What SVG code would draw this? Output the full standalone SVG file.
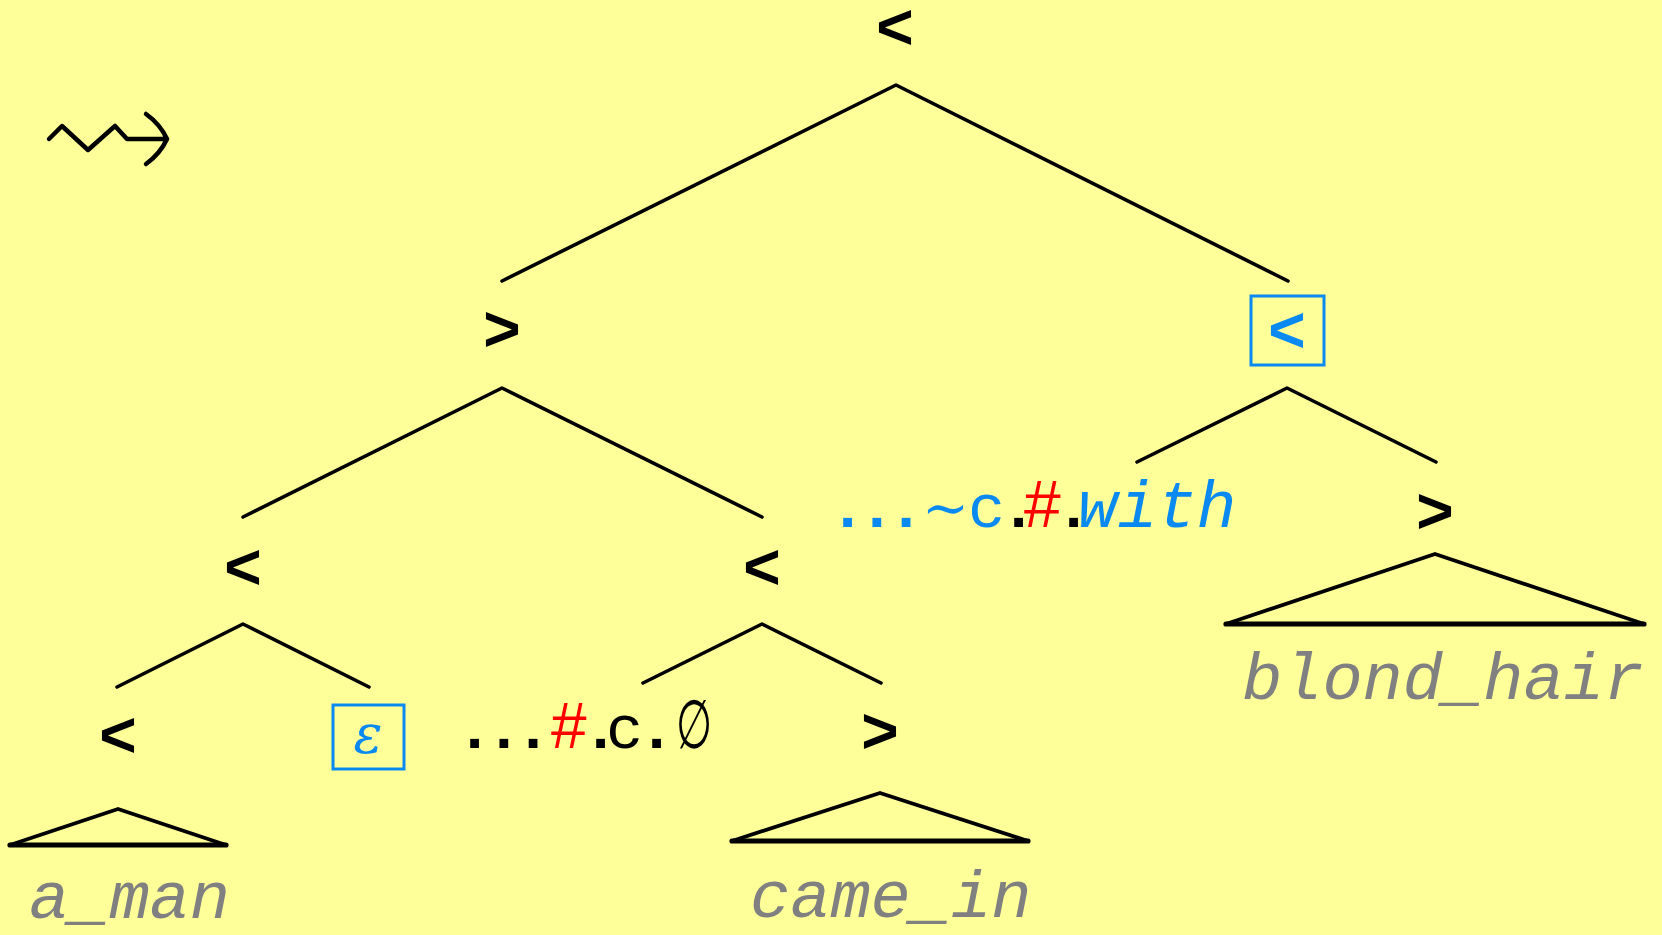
<svg xmlns="http://www.w3.org/2000/svg" width="1662" height="935" viewBox="0 0 1662 935">
<style>
.bg{fill:#ffff99}
.e{stroke:#000;stroke-width:3.6;fill:none;stroke-linecap:round;stroke-linejoin:round}
.tri{stroke:#000;stroke-width:3.8;fill:none;stroke-linecap:round;stroke-linejoin:round}
.base{stroke:#000;stroke-width:5.2;stroke-linecap:round}
.op{font-family:"Liberation Sans",Arial,sans-serif;font-weight:bold;font-size:64px;text-anchor:middle;fill:#000}
.blue{fill:#0a8af0}
.box{fill:none;stroke:#0a8af0;stroke-width:3}
.leaf{font-family:"Liberation Mono","Courier New",monospace;font-style:italic;font-size:67px;fill:#808080}
.t{font-family:"Liberation Sans",Arial,sans-serif;font-size:62px}
.mono{font-family:"Liberation Mono","Courier New",monospace;font-size:62px}
.serif{font-family:"DejaVu Serif","Liberation Serif",serif;font-size:58px}
</style>
<rect class="bg" x="0" y="0" width="1662" height="935"/>
<g id="symbol">
<path class="e" style="stroke-width:4.5" d="M49,139 L62,126 L88,150 L115,126 L127,139 L166,139 M146,114 Q160,124 167,139 Q160,154 146,164"/>
</g>
<g id="connectors">
<polyline class="e" points="502,281 896,85 1288,281"/>
<polyline class="e" points="243,517 502,388 762,517"/>
<polyline class="e" points="1137,462 1287,388 1436,462"/>
<polyline class="e" points="117,687 243,624 369,687"/>
<polyline class="e" points="643,683 762,624 881,683"/>
</g>
<g id="n-root"><text class="op" x="895" y="49">&lt;</text></g>
<g id="n-gt1"><text class="op" x="502" y="351">&gt;</text></g>
<g id="n-box1"><rect class="box" x="1251" y="296" width="73" height="69"/><text class="op blue" x="1287" y="352">&lt;</text></g>
<g id="n-lt2"><text class="op" x="243" y="589">&lt;</text></g>
<g id="n-lt3"><text class="op" x="762" y="589">&lt;</text></g>
<g id="n-gt2"><text class="op" x="1435" y="533">&gt;</text></g>
<g id="n-lt4"><text class="op" x="118" y="757">&lt;</text>
<polygon class="tri" points="118,809 10,845 226,845"/><line class="base" x1="10" y1="845" x2="226" y2="845"/>
<text class="leaf" x="29" y="918">a_man</text></g>
<g id="n-eps"><rect class="box" x="333" y="705" width="71" height="64"/><text class="serif blue" style="font-style:italic;font-size:54px" x="368" y="753" text-anchor="middle">ε</text></g>
<g id="n-gt3"><text class="op" x="880" y="753">&gt;</text>
<polygon class="tri" points="880,793 732,841 1028,841"/><line class="base" x1="732" y1="841" x2="1028" y2="841"/>
<text class="leaf" x="750" y="917">came_in</text></g>
<g id="n-blond">
<polygon class="tri" points="1435,554 1226,624 1644,624"/><line class="base" x1="1226" y1="624" x2="1644" y2="624"/>
<text class="leaf" x="1242" y="699">blond_hair</text></g>
<g id="label1">
<text class="t" y="748"><tspan x="466" style="font-weight:bold;letter-spacing:12px">...</tspan><tspan x="551" fill="#ff0000" style="font-size:64px">#</tspan><tspan x="592" style="font-weight:bold">.</tspan><tspan x="606" class="mono" style="font-size:62px">c</tspan><tspan x="648" style="font-weight:bold">.</tspan></text>
<text class="serif" transform="translate(694,748) scale(0.72,1.18)" text-anchor="middle">∅</text>
</g>
<g id="label2">
<text class="t" y="527"><tspan x="839" class="blue" style="font-weight:bold;letter-spacing:12px">...</tspan><tspan x="922" class="blue" style="font-family:'DejaVu Serif',serif;font-size:56px">∼</tspan><tspan x="968" class="blue" style="font-family:'Liberation Mono',monospace">c</tspan><tspan x="1010" style="font-weight:bold">.</tspan><tspan x="1024" fill="#ff0000" style="font-size:66px">#</tspan><tspan x="1065" style="font-weight:bold">.</tspan><tspan x="1078" class="blue" style="font-family:'Liberation Mono',monospace;font-style:italic;font-size:66px">with</tspan></text>
</g>
</svg>
